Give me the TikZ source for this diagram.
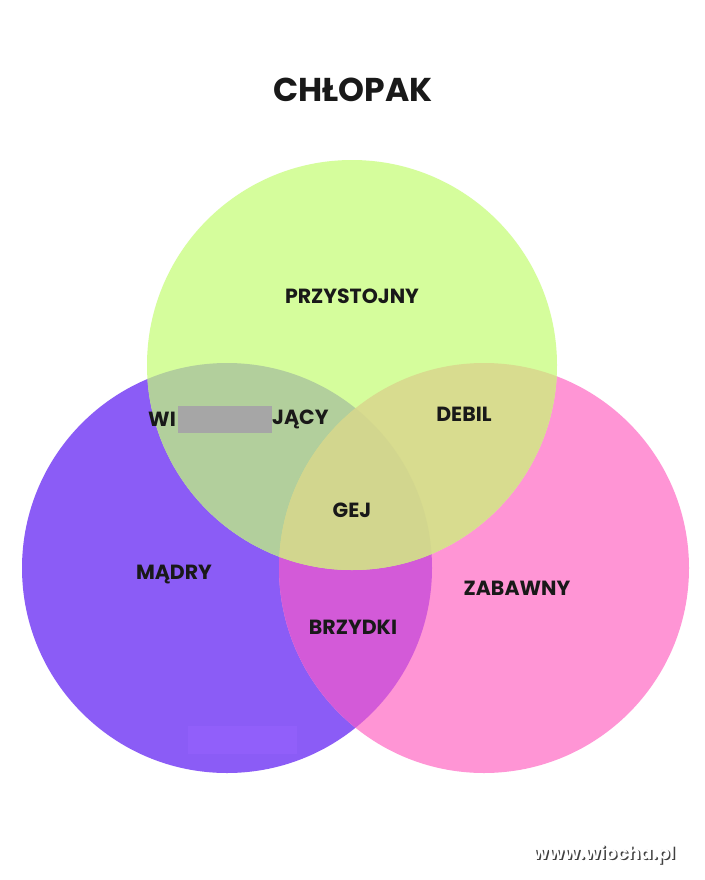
\documentclass[tikz,border=0pt]{standalone}
\usepackage{fontspec}
\setmainfont{Poppins}
\begin{document}
\begin{tikzpicture}[x=1pt,y=-1pt,
  lab/.style={font=\fontsize{20.5}{20}\selectfont\bfseries, text=black!90, inner sep=0pt}]
\useasboundingbox (0,0) rectangle (704,880);
\fill[white] (0,0) rectangle (704,880);
\def\G{(352,365) circle (205)}
\def\P{(227,568) circle (205)}
\def\K{(484,568) circle (205)}
\fill[color={rgb,255:red,139;green,92;blue,246}] \P;
\fill[color={rgb,255:red,255;green,149;blue,213}] \K;
\fill[color={rgb,255:red,213;green,253;blue,156}] \G;
\begin{scope}\clip \P; \fill[color={rgb,255:red,211;green,90;blue,216}] \K; \end{scope}
\begin{scope}\clip \P; \fill[color={rgb,255:red,178;green,207;blue,156}] \G; \end{scope}
\begin{scope}\clip \K; \fill[color={rgb,255:red,216;green,220;blue,143}] \G; \end{scope}
\begin{scope}\clip \K; \clip \P; \fill[color={rgb,255:red,210;green,214;blue,142}] \G; \end{scope}
\fill[color={rgb,255:red,145;green,95;blue,250}] (188,726) rectangle (297,754);
\node[lab, font=\fontsize{33}{33}\selectfont\bfseries] (title) at (353,90) {CHŁOPAK};
\node[lab] (a) at (352,296) {PRZYSTOJNY};
\node[lab, anchor=west] (b1) at (148,419) {WI};
\fill[gray!70] (178,406) rectangle (272,433);
\node[lab, anchor=west] (b2) at (272,419) {JĄCY};
\node[lab] (c) at (464,414) {DEBIL};
\node[lab] (d) at (352,510) {GEJ};
\node[lab] (e) at (174,575) {MĄDRY};
\node[lab] (f) at (517,588) {ZABAWNY};
\node[lab] (g) at (353,627) {BRZYDKI};
\node[font=\fontsize{18}{18}\selectfont\bfseries, text=white] (w) at (604,855)
  {\rlap{\kern1.5pt\raisebox{-1.5pt}{\color{black!75}www.wiocha.pl}}www.wiocha.pl};
\end{tikzpicture}
\end{document}
